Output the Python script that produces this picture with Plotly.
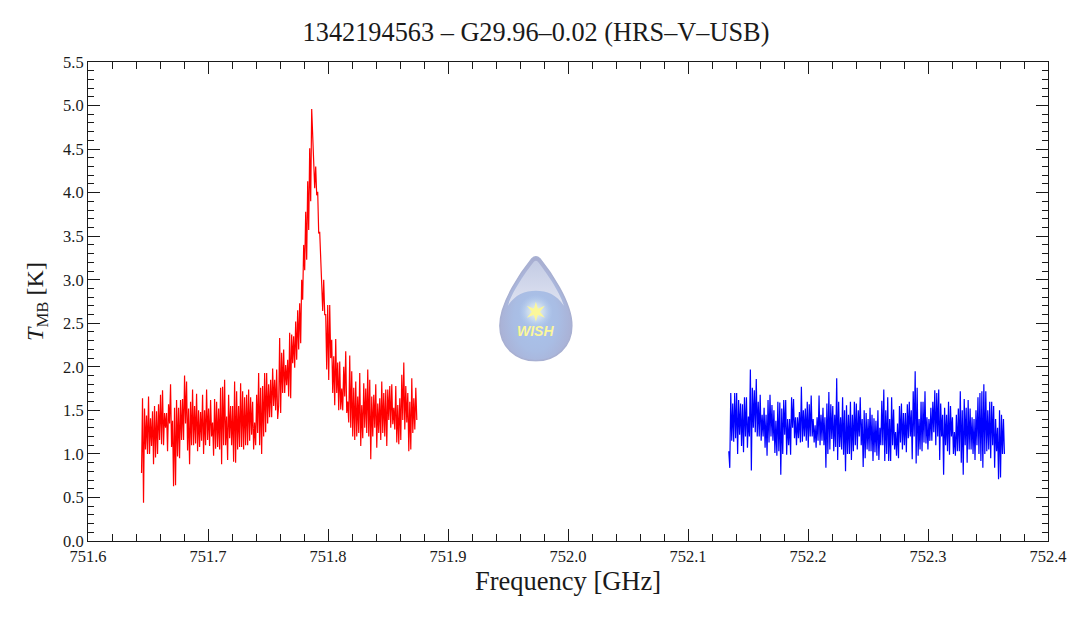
import base64
import numpy as np
import plotly.graph_objects as go

# -------------------------------------------------------------------
# Spectrum values (T_MB in K, one per channel)
# -------------------------------------------------------------------
red_freq_range = [751.6446, 751.8740]
blue_freq_range = [752.1340, 752.3637]

red_tmb = [
    0.78, 1.64, 0.44, 1.52, 1.05, 1.44, 1.00, 1.66, 1.00, 1.41, 1.09, 1.49, 0.88, 1.55, 0.96, 1.49, 1.00,
    1.57, 1.16, 1.68, 1.11, 1.73, 1.10, 1.47, 1.30, 1.47, 1.03, 1.57, 1.35, 1.80, 1.08, 1.38, 0.63, 1.53,
    0.64, 1.62, 0.97, 1.53, 0.95, 1.62, 1.16, 1.63, 1.16, 1.90, 1.35, 1.83, 1.04, 1.52, 0.88,
    1.60, 1.10, 1.74, 1.10, 1.55, 1.12, 1.69, 1.03, 1.50, 1.08, 1.48, 1.15, 1.68, 1.00, 1.50, 1.10, 1.74,
    1.16, 1.52, 1.09, 1.62, 1.20, 1.36, 0.98, 1.63, 1.06, 1.60, 1.08, 1.52, 1.05, 1.76, 0.88, 1.77, 1.10,
    1.85, 1.10, 1.43, 0.93, 1.68, 1.18, 1.55, 1.10, 1.55, 0.91, 1.83, 0.90, 1.72, 1.05, 1.55, 1.08, 1.81,
    1.08, 1.72, 1.05, 1.65, 1.10, 1.68, 1.10, 1.74, 1.15, 1.65, 1.22, 1.60, 1.05, 1.36, 1.10, 1.68, 1.24,
    1.93, 1.10, 1.76, 1.00, 1.78, 1.20, 1.93, 1.25, 1.93, 1.35, 1.80, 1.42, 1.85, 1.42, 1.98, 1.55, 1.85,
    1.50, 1.97, 1.40, 1.55,
    2.33, 1.47, 2.16, 1.70, 2.20, 1.70, 2.02, 1.79, 2.08, 1.66, 2.39, 1.64, 2.37, 2.04, 2.35, 1.99, 2.52,
    2.08, 2.65, 2.20, 2.73, 2.27, 3.00, 2.77, 3.40, 3.11, 3.78, 3.23, 4.13, 3.57, 4.51, 3.90, 4.96, 4.60,
    4.49, 4.05, 4.30, 3.97, 4.01, 3.53, 3.55, 3.10, 2.95, 2.64, 3.00, 2.60, 2.60, 1.97, 2.71, 1.85, 2.71,
    2.10, 2.31, 1.70, 2.12, 1.56, 2.32, 1.70, 2.05, 1.50, 2.06, 1.51, 1.75, 1.50, 2.00, 1.66, 2.18, 1.47,
    1.60, 1.36, 2.13, 1.30, 1.95, 1.20, 1.76, 1.16, 1.83, 1.20, 1.66, 1.24, 1.93, 1.09, 1.56, 1.18, 1.81,
    1.30, 1.75, 1.24, 1.97, 1.20, 1.85, 0.94, 1.66, 1.20, 1.68, 1.30, 1.80, 1.07, 1.58, 1.24, 1.64, 1.16,
    1.83, 1.24, 1.70, 1.20, 1.74, 1.09, 1.74, 1.39, 1.78, 1.30, 1.80, 1.34, 1.53, 1.28, 1.78, 1.13, 1.56,
    1.11, 1.64, 1.16, 1.91, 1.39, 2.05, 1.28, 1.78, 1.36, 1.70, 1.03, 1.60, 1.05, 1.87, 1.24, 1.64, 1.28,
    1.76, 1.39,
]

blue_tmb = [
    1.03, 0.84, 1.70, 1.15, 1.58, 1.14, 1.70, 1.18, 1.70, 1.00, 1.62, 1.22, 1.58, 1.09, 1.57, 1.02, 1.65,
    1.20, 1.65, 1.07, 1.43, 1.20, 1.97, 0.81, 1.76, 1.30, 1.73, 1.25, 1.86, 1.20, 1.60, 1.20, 1.68, 1.15,
    1.45, 1.20, 1.53, 1.07, 1.45, 0.98, 1.62, 1.13, 1.68, 1.20, 1.56, 1.15, 1.50, 1.01, 1.38, 0.98, 1.60,
    1.03, 1.59, 0.76, 1.52, 1.00, 1.62, 1.22, 1.62, 0.99, 1.40, 1.10, 1.40, 0.99, 1.65, 1.30, 1.63, 1.18,
    1.42, 1.10, 1.42, 1.18, 1.48, 1.13, 1.77, 1.14, 1.50, 1.20, 1.52, 1.15, 1.60, 1.07, 1.57, 1.20, 1.67,
    1.20, 1.40, 1.13, 1.33, 1.07, 1.42, 1.15, 1.67, 1.10, 1.45, 1.15, 1.53, 1.10, 1.42, 0.84, 1.58, 1.00,
    1.71, 1.05, 1.57, 1.17, 1.55, 1.03, 1.45, 1.08, 1.87, 0.93, 1.60, 1.08, 1.42, 1.05, 1.65, 0.99, 1.50,
    0.80, 1.56, 1.00, 1.45, 1.00, 1.60, 0.93, 1.45, 1.03, 1.60, 1.10, 1.58, 1.05, 1.50, 1.20, 1.65, 1.10,
    1.40, 0.85, 1.50, 0.95, 1.47, 1.05, 1.40, 1.03,
    1.53, 1.03, 1.45, 0.92, 1.41, 1.02, 1.38, 0.98, 1.50, 0.93, 1.30, 1.10, 1.61, 1.10, 1.74, 0.92, 1.50,
    1.00, 1.65, 0.92, 1.40, 0.92, 1.65, 1.10, 1.51, 1.05, 1.25, 0.98, 1.35, 0.95, 1.55, 1.13, 1.58, 1.05,
    1.47, 1.10, 1.47, 1.02, 1.57, 1.18, 1.60, 1.20, 1.50, 0.94, 1.72, 1.20, 1.95, 0.89, 1.76, 0.98, 1.40,
    1.05, 1.60, 1.03, 1.60, 1.13, 1.72, 1.12, 1.42, 1.05, 1.40, 1.15, 1.53, 1.15, 1.60, 1.25, 1.73, 1.10,
    1.70, 1.20, 1.74, 0.93, 1.58, 1.20, 1.45, 0.76, 1.53, 1.10, 1.45, 1.03, 1.60, 0.99, 1.55, 1.20, 1.42,
    1.00, 1.25, 0.98, 1.45, 1.03, 1.52, 1.03, 1.72, 0.90, 1.50, 0.76, 1.63, 1.10, 1.53, 0.90, 1.62, 1.05,
    1.52, 1.05, 1.42, 1.00, 1.40, 0.93, 1.50, 1.10, 1.65, 1.00, 1.70, 0.92, 1.72, 0.84, 1.80, 1.00, 1.72,
    1.03, 1.50, 1.05, 1.60, 0.95, 1.60, 1.10, 1.55, 0.84, 1.40, 1.03, 1.30, 0.71, 1.50, 0.73, 1.45, 1.00,
    1.40, 1.00,
]

title_text = "1342194563 – G29.96–0.02 (HRS–V–USB)"
x_label = "Frequency [GHz]"
y_label = "<i>T</i><sub>MB</sub> [K]"

FONT = "Liberation Serif"
INK = "#1a1a1a"

red_freq = np.linspace(red_freq_range[0], red_freq_range[1], len(red_tmb))
blue_freq = np.linspace(blue_freq_range[0], blue_freq_range[1], len(blue_tmb))

# --- WISH droplet logo, the lettering goes on top as an annotation ---
logo_svg = """<svg xmlns="http://www.w3.org/2000/svg" width="74" height="106" viewBox="0 0 74 106">
<defs>
<radialGradient id="body" cx="0.5" cy="0.6" r="0.62">
<stop offset="0" stop-color="#a9c4ec"/><stop offset="0.5" stop-color="#a9bde4"/>
<stop offset="0.8" stop-color="#aab2d6"/><stop offset="1" stop-color="#a6acce"/></radialGradient>
<linearGradient id="top" x1="0" y1="0" x2="0" y2="1">
<stop offset="0" stop-color="#c3cbe4"/><stop offset="1" stop-color="#dfe3f1"/></linearGradient>
<radialGradient id="glow"><stop offset="0" stop-color="#fdfbd0"/><stop offset="0.5" stop-color="#d5e3f0" stop-opacity="0.7"/>
<stop offset="1" stop-color="#b4cdf0" stop-opacity="0"/></radialGradient>
</defs>
<path d="M33 3 Q37 -1 41 3 C50 14 73 46 73 70 C73 91 57 105 37 105 C17 105 1 91 1 70 C1 46 24 14 33 3 Z" fill="url(#body)" stroke="#a8b0d2" stroke-width="1.5"/>
<path d="M35 6 Q37 4 39 6 C46 15 60 34 65 50 C58 39 48 35 37 35 C26 35 16 39 9 50 C14 34 28 15 35 6 Z" fill="url(#top)"/>
<circle cx="37" cy="56" r="17" fill="url(#glow)"/>
<path d="M37 46 L39 53 L46 50 L41 56 L46 62 L39 59 L37 66 L35 59 L28 62 L33 56 L28 50 L35 53 Z" fill="#fbf79a"/>
</svg>"""
logo_uri = "data:image/svg+xml;base64," + base64.b64encode(logo_svg.encode()).decode()

# --- Figure ---
fig = go.Figure()
fig.add_scatter(x=red_freq, y=red_tmb, mode="lines", line=dict(color="#ff0000", width=1.2), showlegend=False)
fig.add_scatter(x=blue_freq, y=blue_tmb, mode="lines", line=dict(color="#0000ff", width=1.2), showlegend=False)

axis_style = dict(
    showgrid=False, zeroline=False, showline=True, linecolor=INK, linewidth=1,
    ticks="inside", tickcolor=INK, tickwidth=1, ticklen=12, mirror="allticks", automargin=False,
    tickfont=dict(family=FONT, size=16.5, color=INK), tickformat=".1f",
)
fig.update_xaxes(
    range=[751.6, 752.4], tick0=751.6, dtick=0.1,
    minor=dict(ticks="inside", dtick=0.02, ticklen=7, tickcolor=INK, tickwidth=1, showgrid=False),
    title=dict(text=x_label, font=dict(family=FONT, size=26.5, color=INK), standoff=6),
    **axis_style,
)
fig.update_yaxes(
    range=[0, 5.5], tick0=0, dtick=0.5,
    minor=dict(ticks="inside", dtick=0.1, ticklen=6, tickcolor=INK, tickwidth=1, showgrid=False),
    title=dict(text=y_label, font=dict(family=FONT, size=24, color=INK), standoff=12),
    **axis_style,
)
fig.update_layout(
    width=1072, height=618,
    margin=dict(l=88, r=24, t=62, b=77),
    paper_bgcolor="white", plot_bgcolor="white",
    title=dict(text=title_text, x=0.5, xanchor="center", xref="container", y=0.948, yanchor="middle",
               font=dict(family=FONT, size=26.3, color=INK)),
    images=[dict(source=logo_uri, xref="paper", yref="paper", x=0.428, y=0.5954, sizex=0.0771, sizey=0.2211,
                 xanchor="left", yanchor="top", sizing="stretch", layer="below")],
    annotations=[dict(text="<b><i>WISH</i></b>", xref="paper", yref="paper", x=0.4661, y=0.439, showarrow=False,
                      font=dict(family="Liberation Sans", size=14, color="#fbf79a"))],
)

fig.write_html("out.html", config=dict(displayModeBar=False), post_script="document.body.style.margin='0';")
